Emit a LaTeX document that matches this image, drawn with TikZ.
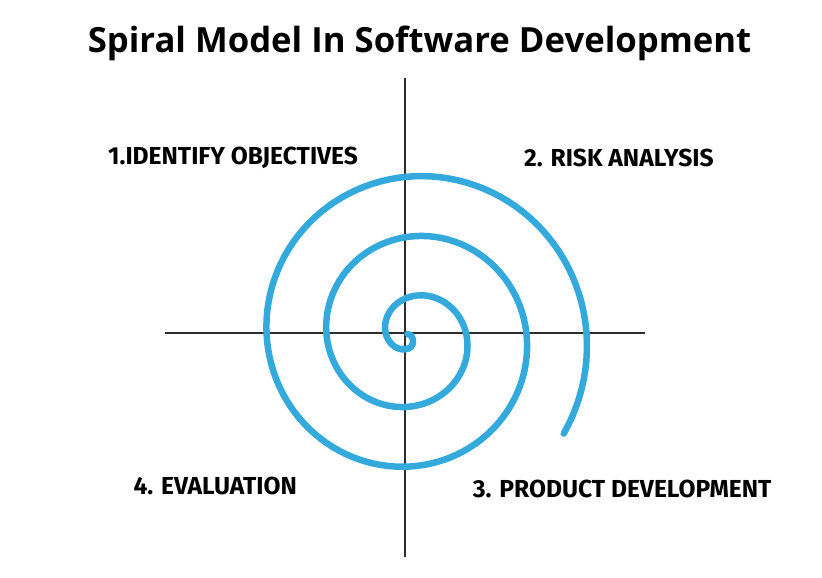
\documentclass[tikz,border=0pt]{standalone}
\usepackage{fontspec}
\newfontfamily\titlefont{Open Sans}
\newfontfamily\phasefont{Fira Sans}
\usetikzlibrary{positioning}
\definecolor{spiralblue}{RGB}{52,170,220}
\definecolor{axisgray}{RGB}{45,45,45}

\begin{document}
\begin{tikzpicture}[x=1pt,y=1pt,
    phase/.style={anchor=base west,inner sep=0pt,font=\phasefont\bfseries\fontsize{24.6}{25}\selectfont},
    axis/.style={draw=axisgray,line width=1.3pt},
    spiral/.style={draw=spiralblue,line width=6.5pt,line cap=round,line join=round}]

            \useasboundingbox (0,0) rectangle (822,578);

            \node[anchor=base,inner sep=0pt,font=\titlefont\bfseries\fontsize{34.7}{35}\selectfont] (title) at (419.5,525.7) {Spiral Model In Software Development};

            \coordinate (n) at (405,500);
            \coordinate (s) at (405,21);
            \coordinate (w) at (165,245);
            \coordinate (e) at (645,245);

            \path[axis] (n) -- (s)
                        (w) -- (e);

            \draw[spiral] (407.5,244) .. controls (413,244) and (415,235) .. (411,231)
                .. controls (409,229.3) and (406.5,228.7) .. (404.2,228.6)
                -- plot[domain=240:-752.6,samples=320] ({411.7+(40+(90-\x)/6)*cos(\x)},{241.6+(40+(90-\x)/6)*sin(\x)});

            \node[phase] (obj) at (108,413) {1.IDENTIFY OBJECTIVES};
            \node[phase] (risk) at (524,411.3) {2. RISK ANALYSIS};
            \node[phase] (prod) at (472.7,80.7) {3. PRODUCT DEVELOPMENT};
            \node[phase] (eval) at (133.3,83.7) {4. EVALUATION};

        \end{tikzpicture}
\end{document}
